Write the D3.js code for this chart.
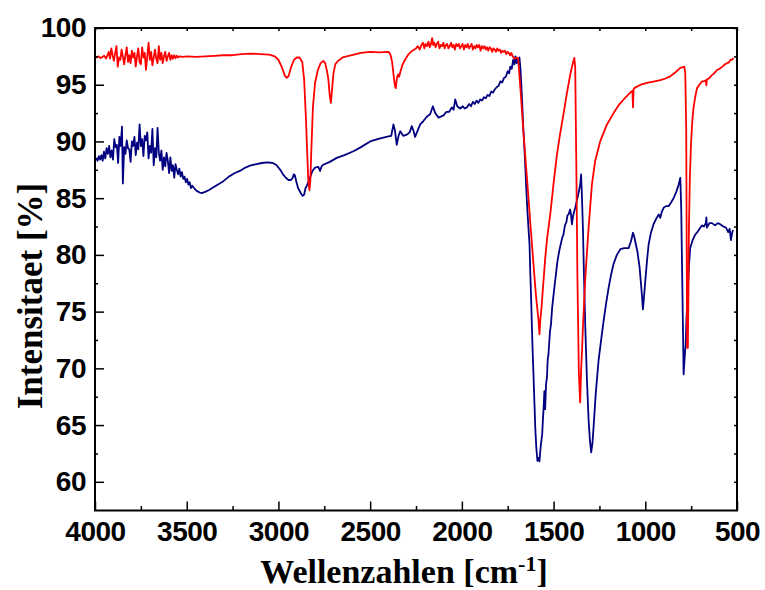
<!DOCTYPE html>
<html lang="de">
<head>
<meta charset="UTF-8">
<title>IR Spektrum</title>
<script src="https://cdn.jsdelivr.net/npm/d3@7"></script>
<style>
  body { margin: 0; background: #fff; }
  .tick text { font-family: "Liberation Sans", Arial, sans-serif; font-weight: bold; font-size: 28px; letter-spacing: -0.5px; fill: #000; }
  .tick line { stroke: #000; stroke-width: 1.5; }
</style>
</head>
<body>
<svg width="765" height="590"></svg>
<script>
// tick values
var xMajor = [4000, 3500, 3000, 2500, 2000, 1500, 1000, 500];
var xMinor = [3750, 3250, 2750, 2250, 1750, 1250, 750];
var yMajor = [60, 65, 70, 75, 80, 85, 90, 95, 100];
var yMinor = [62.5, 67.5, 72.5, 77.5, 82.5, 87.5, 92.5, 97.5];

// red spectrum [wavenumber, %]
var redSpectrum = [
  [4000,97.45],[3990,97.4],[3980,97.5],[3970,97.35],[3960,97.45],[3950,97.55],[3940,97.3],[3932,97.6],
  [3925,97.9],[3918,97.3],[3911,98.2],[3904,97.6],[3897,97.1],[3890,97.8],[3883,98.4],[3876,96.6],
  [3869,97.4],[3862,97.2],[3855,98.1],[3848,97.5],[3841,96.8],[3834,97.6],[3827,98.3],[3820,97.0],
  [3813,97.6],[3806,96.9],[3799,98.0],[3792,97.4],[3785,97.8],[3778,96.6],[3771,97.5],[3764,98.2],
  [3757,97.0],[3750,96.8],[3743,98.3],[3736,97.4],[3729,97.8],[3722,96.3],[3715,97.5],[3708,98.7],
  [3701,97.2],[3694,97.9],[3687,96.7],[3680,97.4],[3673,98.1],[3666,97.3],[3659,96.9],[3652,98.4],
  [3645,97.2],[3638,97.8],[3631,96.9],[3624,97.5],[3617,97.9],[3610,97.1],[3603,97.5],[3596,97.8],
  [3589,97.2],[3582,97.6],[3575,97.3],[3568,97.6],[3561,97.35],[3554,97.55],[3547,97.4],[3540,97.5],
  [3520,97.45],[3500,97.5],[3450,97.45],[3400,97.5],[3350,97.55],[3300,97.6],[3250,97.6],[3200,97.7],
  [3150,97.75],[3100,97.7],[3050,97.65],[3020,97.5],[3000,97.2],[2980,96.5],[2965,95.8],[2955,95.6],
  [2945,95.75],[2930,96.6],[2915,97.2],[2900,97.4],[2885,97.4],[2870,97.0],[2860,95.5],[2850,92.0],
  [2843,89.0],[2837,86.5],[2831,85.7],[2826,86.5],[2820,89.5],[2812,93.0],[2800,95.2],[2785,96.3],
  [2770,96.9],[2755,97.1],[2745,96.9],[2735,96.2],[2728,95.5],[2720,94.0],[2714,93.4],[2708,94.5],
  [2700,96.0],[2690,96.8],[2675,97.1],[2650,97.4],[2600,97.6],[2550,97.8],[2500,97.9],[2450,97.85],
  [2400,97.9],[2390,97.7],[2380,97.0],[2372,95.8],[2365,94.9],[2360,94.7],[2354,95.6],[2348,95.9],
  [2342,95.7],[2336,96.1],[2325,96.7],[2310,97.2],[2290,97.7],[2270,98.0],[2250,98.2],
  [2240,98.4],[2230,98.1],[2220,98.5],[2212,98.7],[2205,98.2],[2198,98.6],[2190,98.4],[2182,98.8],
  [2175,98.3],[2168,98.6],[2162,99.1],[2156,98.5],[2150,98.7],[2143,98.3],[2136,98.6],[2129,98.8],
  [2122,98.2],[2115,98.5],[2108,98.4],[2101,98.7],[2094,98.2],[2087,98.5],[2080,98.6],[2073,98.2],
  [2066,98.4],[2059,98.7],[2052,98.3],[2045,98.5],[2038,98.1],[2031,98.6],[2024,98.4],[2017,98.6],
  [2010,98.2],[2003,98.4],[1996,98.6],[1989,98.1],[1982,98.5],[1975,98.3],[1968,98.6],[1961,98.2],
  [1954,98.4],[1947,98.6],[1940,98.1],[1933,98.4],[1926,98.2],[1919,98.5],[1912,98.3],[1905,98.5],
  [1898,98.0],[1891,98.4],[1884,98.2],[1877,98.4],[1870,98.1],[1863,98.3],[1856,98.0],[1849,98.3],
  [1842,98.2],[1835,97.9],[1828,98.2],[1821,98.1],[1814,97.9],[1807,98.2],[1800,98.0],[1793,98.1],
  [1786,97.8],[1779,98.0],[1772,97.9],[1765,98.0],[1758,97.7],[1751,97.9],[1744,97.8],[1737,97.6],
  [1730,97.8],[1723,97.5],[1715,97.3],[1700,97.4],[1693,97.3],
  [1680,94.5],[1666,91.2],[1652,88.2],[1638,85.3],[1625,82.4],[1611,79.5],[1597,76.6],[1582,74.2],
  [1577,73.0],[1572,74.3],[1565,75.5],[1555,77.7],[1545,79.8],[1535,81.5],[1518,83.6],[1500,86.3],
  [1482,88.8],[1465,90.6],[1446,92.4],[1428,94.2],[1409,95.9],[1395,96.9],[1387,97.36],[1382,96.5],
  [1376,88.0],[1370,78.0],[1362,69.5],[1355,67.0],[1350,69.8],[1345,71.5],[1340,73.6],[1327,78.0],
  [1309,82.4],[1291,86.2],[1273,88.3],[1246,90.0],[1209,91.5],[1173,92.5],[1145,93.2],[1118,93.7],
  [1078,94.37],[1070,94.45],[1067,93.0],[1064,94.6],[1060,94.7],[1025,95.0],[991,95.16],[950,95.3],
  [918,95.4],[890,95.55],[864,95.74],[835,96.1],[809,96.48],[795,96.55],[787,96.6],[782,96.0],
  [777,91.2],[774,80.0],[772,71.8],[768,71.8],[765,76.0],[762,82.4],[757,86.8],[751,89.7],
  [744,91.7],[737,92.96],[728,93.9],[718,94.7],[700,95.1],[690,95.3],[682,95.3],[670,95.4],
  [667,94.95],[664,95.45],[650,95.6],[640,95.8],[625,96.0],[609,96.3],[595,96.4],[580,96.6],
  [565,96.8],[555,96.9],[545,96.95],[535,97.2],[527,97.2],[519,97.36]
];

// blue spectrum [wavenumber, %]
var blueSpectrum = [
  [4000,88.4],[3993,88.5],[3986,88.3],[3979,88.7],[3972,88.4],[3965,88.8],[3958,88.3],[3951,89.1],
  [3944,88.5],[3937,89.4],[3930,88.9],[3923,89.6],[3916,88.6],[3909,89.2],[3902,88.4],[3895,90.2],
  [3888,89.5],[3881,89.7],[3874,88.1],[3867,90.4],[3860,89.6],[3853,91.3],[3848,86.3],[3841,89.5],
  [3834,88.9],[3827,90.1],[3820,89.4],[3813,89.3],[3806,88.2],[3799,90.0],[3792,89.6],[3785,90.4],
  [3778,88.8],[3771,89.9],[3764,89.3],[3757,91.5],[3750,89.6],[3743,90.2],[3736,88.7],[3729,90.5],
  [3722,90.1],[3715,90.8],[3708,88.5],[3701,89.6],[3694,89.0],[3687,91.1],[3680,87.9],[3673,89.4],
  [3666,88.6],[3659,91.2],[3652,89.0],[3645,88.3],[3638,89.2],[3631,87.5],[3624,88.6],[3617,87.8],
  [3610,89.0],[3603,88.3],[3596,87.2],[3589,88.6],[3582,87.4],[3575,87.9],[3568,86.8],[3561,88.0],
  [3554,87.5],[3547,87.1],[3540,87.6],[3533,86.9],[3526,87.3],[3519,86.7],[3512,86.9],[3505,86.4],
  [3498,86.7],[3491,86.2],[3484,86.4],[3477,85.9],[3470,86.1],[3460,85.9],[3450,85.7],[3440,85.6],
  [3430,85.5],[3418,85.45],[3400,85.55],[3380,85.7],[3350,86.0],[3320,86.3],[3300,86.5],[3270,86.9],
  [3240,87.2],[3210,87.4],[3180,87.7],[3150,87.9],[3120,88.0],[3090,88.1],[3060,88.15],[3030,88.1],
  [3010,87.9],[2990,87.5],[2975,87.1],[2960,86.8],[2945,86.6],[2932,86.6],[2922,86.8],[2916,87.1],
  [2910,87.0],[2903,86.5],[2893,85.9],[2880,85.5],[2868,85.2],[2860,85.3],[2852,85.9],[2845,86.1],
  [2830,86.7],[2815,87.4],[2800,87.7],[2782,87.75],[2773,87.4],[2765,87.8],[2755,87.95],[2720,88.2],
  [2682,88.55],[2640,88.8],[2591,89.14],[2550,89.5],[2500,90.0],[2450,90.25],[2400,90.45],[2385,90.5],
  [2373,91.5],[2365,91.0],[2355,89.7],[2345,90.5],[2336,90.9],[2320,90.5],[2300,90.6],[2285,90.8],
  [2273,91.35],[2263,90.9],[2255,90.4],[2240,91.0],[2227,91.5],[2210,91.8],[2190,92.2],[2173,92.4],
  [2158,93.1],[2145,92.5],[2127,92.1],[2100,92.3],[2085,92.6],[2070,92.6],[2055,93.0],[2045,92.8],
  [2036,93.7],[2025,93.1],[2009,92.9],[1995,93.1],[1985,92.9],[1973,93.0],[1960,93.3],[1950,93.1],
  [1940,93.5],[1930,93.3],[1920,93.6],[1910,93.4],[1900,93.7],[1890,93.6],[1880,93.9],[1870,93.8],
  [1860,94.1],[1850,94.0],[1840,94.4],[1830,94.3],[1820,94.6],[1809,94.8],[1800,94.9],[1790,95.3],
  [1780,95.2],[1770,95.6],[1760,95.7],[1750,96.2],[1742,96.0],[1736,96.6],[1728,96.4],[1720,97.2],
  [1714,96.8],[1708,97.5],[1702,96.9],[1696,97.3],[1690,96.8],[1686,97.4],[1680,96.3],[1673,94.1],
  [1666,91.5],[1660,89.7],[1654,87.7],[1649,85.9],[1643,84.0],[1637,82.4],[1631,80.9],[1627,78.5],
  [1623,76.5],[1618,73.6],[1613,71.0],[1609,69.2],[1604,66.8],[1600,64.8],[1594,63.0],[1588,61.85],
  [1583,62.1],[1577,61.8],[1573,62.6],[1569,63.3],[1562,64.2],[1558,65.5],[1555,66.3],[1550,68.0],
  [1546,66.4],[1541,68.6],[1536,69.2],[1532,70.8],[1528,71.2],[1520,73.2],[1514,73.9],[1508,75.3],
  [1500,76.5],[1493,77.5],[1487,78.3],[1480,79.3],[1473,80.0],[1466,80.6],[1460,81.0],[1453,81.5],
  [1446,81.8],[1438,82.6],[1430,82.9],[1424,83.5],[1418,83.56],[1410,84.0],[1405,83.6],[1400,82.7],
  [1394,83.4],[1388,83.8],[1382,84.15],[1370,85.0],[1362,85.6],[1355,86.2],[1350,87.1],[1346,85.5],
  [1340,82.4],[1334,78.0],[1327,73.6],[1318,69.0],[1309,65.4],[1302,63.7],[1295,62.6],[1288,63.4],
  [1282,64.8],[1270,67.8],[1255,70.65],[1240,72.6],[1227,74.2],[1213,75.8],[1200,77.1],[1186,78.3],
  [1173,79.2],[1155,80.0],[1136,80.5],[1115,80.6],[1091,80.6],[1078,81.2],[1067,81.95],[1060,81.6],
  [1055,81.2],[1043,80.3],[1031,78.9],[1020,76.8],[1013,75.2],[1007,76.3],[1000,77.7],[990,79.6],
  [982,80.9],[970,81.9],[955,82.7],[940,83.2],[927,83.56],[918,83.27],[910,83.8],[900,84.15],
  [887,84.3],[873,84.3],[860,84.6],[845,85.03],[830,85.6],[818,86.2],[809,86.8],[804,84.0],
  [800,79.46],[795,74.0],[791,69.47],[786,70.8],[780,72.1],[775,74.5],[769,76.5],[762,79.0],
  [755,80.6],[742,81.3],[727,81.8],[712,82.1],[700,82.4],[690,82.6],[680,82.5],[670,82.8],
  [667,83.3],[664,82.4],[650,82.8],[636,82.8],[620,82.6],[605,82.8],[591,82.7],[575,82.5],
  [560,82.4],[548,82.0],[540,82.3],[533,81.3],[527,81.9],[522,82.2]
];

var plotLeft = 95, plotRight = 737, plotTop = 28, plotBottom = 510.5;

var svg = d3.select("svg");

var x = d3.scaleLinear().domain([4000, 500]).range([plotLeft, plotRight]);
var y = d3.scaleLinear().domain([57.47, 100]).range([plotBottom, plotTop]);

svg.append("clipPath").attr("id", "plot")
  .append("rect")
  .attr("x", plotLeft).attr("y", plotTop)
  .attr("width", plotRight - plotLeft).attr("height", plotBottom - plotTop);

var line = d3.line()
  .x(function(d) { return x(d[0]); })
  .y(function(d) { return y(d[1]); });

svg.append("path")
  .datum(blueSpectrum)
  .attr("d", line)
  .attr("fill", "none")
  .attr("stroke", "#000080")
  .attr("stroke-width", 1.8)
  .attr("stroke-linejoin", "round")
  .attr("clip-path", "url(#plot)");

svg.append("path")
  .datum(redSpectrum)
  .attr("d", line)
  .attr("fill", "none")
  .attr("stroke", "#ff0000")
  .attr("stroke-width", 1.8)
  .attr("stroke-linejoin", "round")
  .attr("clip-path", "url(#plot)");

// bottom axis: labelled major ticks + minor ticks, pointing inward
svg.append("g")
  .attr("transform", "translate(0," + plotBottom + ")")
  .call(d3.axisBottom(x).tickValues(xMajor).tickSize(-9).tickPadding(11).tickFormat(d3.format("d")))
  .call(function(g) { g.select(".domain").remove(); });

svg.append("g")
  .attr("transform", "translate(0," + plotBottom + ")")
  .call(d3.axisBottom(x).tickValues(xMinor).tickSize(-4.5).tickFormat(""))
  .call(function(g) { g.select(".domain").remove(); });

// left axis
svg.append("g")
  .attr("transform", "translate(" + plotLeft + ",0)")
  .call(d3.axisLeft(y).tickValues(yMajor).tickSize(-9).tickPadding(9).tickFormat(d3.format("d")))
  .call(function(g) { g.select(".domain").remove(); });

svg.append("g")
  .attr("transform", "translate(" + plotLeft + ",0)")
  .call(d3.axisLeft(y).tickValues(yMinor).tickSize(-3).tickFormat(""))
  .call(function(g) { g.select(".domain").remove(); });

// top and right: short unlabelled ticks
svg.append("g")
  .attr("transform", "translate(0," + plotTop + ")")
  .call(d3.axisTop(x).tickValues(xMajor.concat(xMinor)).tickSize(-3).tickFormat(""))
  .call(function(g) { g.select(".domain").remove(); });

svg.append("g")
  .attr("transform", "translate(" + plotRight + ",0)")
  .call(d3.axisRight(y).tickValues(yMajor.concat(yMinor)).tickSize(-3).tickFormat(""))
  .call(function(g) { g.select(".domain").remove(); });

// frame
svg.append("rect")
  .attr("x", plotLeft).attr("y", plotTop)
  .attr("width", plotRight - plotLeft).attr("height", plotBottom - plotTop)
  .attr("fill", "none")
  .attr("stroke", "#000")
  .attr("stroke-width", 2);

// axis titles
var xt = svg.append("text")
  .attr("x", 404).attr("y", 583)
  .attr("text-anchor", "middle")
  .style("font-family", "'Liberation Serif', 'Times New Roman', serif")
  .style("font-weight", "bold")
  .style("font-size", "34px");
xt.append("tspan").text("Wellenzahlen [cm");
xt.append("tspan").attr("dy", -12).style("font-size", "22px").text("-1");
xt.append("tspan").attr("dy", 12).text("]");

svg.append("text")
  .attr("transform", "translate(42,296) rotate(-90)")
  .attr("text-anchor", "middle")
  .style("font-family", "'Liberation Serif', 'Times New Roman', serif")
  .style("font-weight", "bold")
  .style("font-size", "35px")
  .text("Intensitaet [%]");
</script>
</body>
</html>
